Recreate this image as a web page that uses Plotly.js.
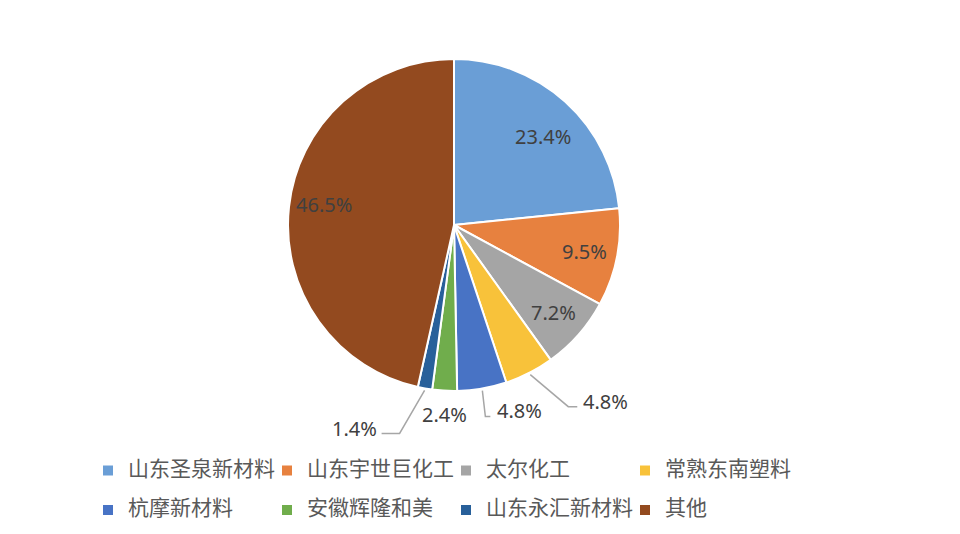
<!DOCTYPE html>
<html><head><meta charset="utf-8">
<script src="https://cdn.plot.ly/plotly-3.0.1.min.js"></script>
<style>html,body{margin:0;padding:0;background:#fff}</style>
</head><body><div id="chart" style="width:960px;height:534px"></div>
<script>
// ---- data ----
const companies = ['山东圣泉新材料','山东宇世巨化工','太尔化工','常熟东南塑料','杭摩新材料','安徽辉隆和美','山东永汇新材料','其他'];
const shares = [23.4, 9.5, 7.2, 4.8, 4.8, 2.4, 1.4, 46.5];
const colors = ['#6A9ED6','#E7813F','#A5A5A5','#F8C23A','#4873C5','#70AD4C','#28609A','#934A1F'];

// ---- layout geometry ----
const W = 960, H = 534, MR = 100;       // right margin limits legend to 4 entries per row
const PW = W - MR;                      // plot-area width (paper width)
const dom = {x:[288/PW, 620/PW], y:[0.26779, 0.88951]};
const cx = (dom.x[0]+dom.x[1])/2*PW;
const cy = H - (dom.y[0]+dom.y[1])/2*H;
const R = Math.min((dom.x[1]-dom.x[0])*PW, (dom.y[1]-dom.y[0])*H)/2;

// label styling per slice
const labelStyle = [
  {f:0.8, nx:0, ny:10},
  {f:0.8, nx:0, ny:0},
  {f:0.8, nx:0, ny:0},
  {leader:[[38,32],[47,32]], lx:51, ly:27, anchor:'left'},
  {leader:[[3,26],[8,26]], lx:13, ly:20, anchor:'left'},
  {leader:null, lx:0, ly:22, anchor:'center'},
  {leader:[[-25,43],[-43,43]], lx:-46, ly:38, anchor:'right'},
  {f:0.79, nx:0, ny:-6}
];

const total = shares.reduce((a,b)=>a+b,0);
const px = x => x/PW, py = y => 1 - y/H;
const annotations = [], shapes = [];
let cum = 0;
shares.forEach((v,i)=>{
  const mid = (cum + v/2)/total*2*Math.PI; cum += v;
  const s = Math.sin(mid), c = Math.cos(mid);
  const st = labelStyle[i];
  const txt = (v/total*100).toFixed(1) + '%';
  const font = {family:'Noto Sans, sans-serif', size:20, color:'#404040'};
  if (st.f !== undefined) {
    const x = cx + s*R*st.f + st.nx, y = cy - c*R*st.f + st.ny;
    annotations.push({x:px(x), y:py(y), xref:'paper', yref:'paper', text:txt, showarrow:false,
      xanchor:'center', yanchor:'middle', font});
  } else {
    const ex = cx + s*(R+2), ey = cy - c*(R+2);
    if (st.leader) {
      let d = `M ${px(ex)} ${py(ey)}`;
      st.leader.forEach(p=>{ d += ` L ${px(ex+p[0])} ${py(ey+p[1])}`; });
      shapes.push({type:'path', xref:'paper', yref:'paper', path:d, line:{color:'#A6A6A6', width:1.5}});
    }
    annotations.push({x:px(ex+st.lx), y:py(ey+st.ly), xref:'paper', yref:'paper', text:txt, showarrow:false,
      xanchor:st.anchor, yanchor:'middle', font});
  }
});

const legendLabels = companies.map(c => `<span style="font-size:21px">${c}</span><br> `);

const trace = {
  type:'pie', labels:legendLabels, values:shares, sort:false, direction:'clockwise', rotation:0,
  domain:dom, textinfo:'none', hoverinfo:'label+percent',
  marker:{colors:colors, line:{color:'#ffffff', width:2}}
};

const layout = {
  width:W, height:H, margin:{l:0,r:MR,t:0,b:0,autoexpand:false},
  paper_bgcolor:'#ffffff', plot_bgcolor:'#ffffff',
  showlegend:true,
  legend:{orientation:'h', x:88/PW, y:0.148, xanchor:'left', yanchor:'top',
    entrywidth:134, entrywidthmode:'pixels', valign:'top', traceorder:'normal',
    font:{family:'Noto Sans CJK SC, sans-serif', size:14, color:'#595959'}},
  annotations, shapes
};
Plotly.newPlot('chart', [trace], layout, {displayModeBar:false, staticPlot:true});
</script></body></html>
